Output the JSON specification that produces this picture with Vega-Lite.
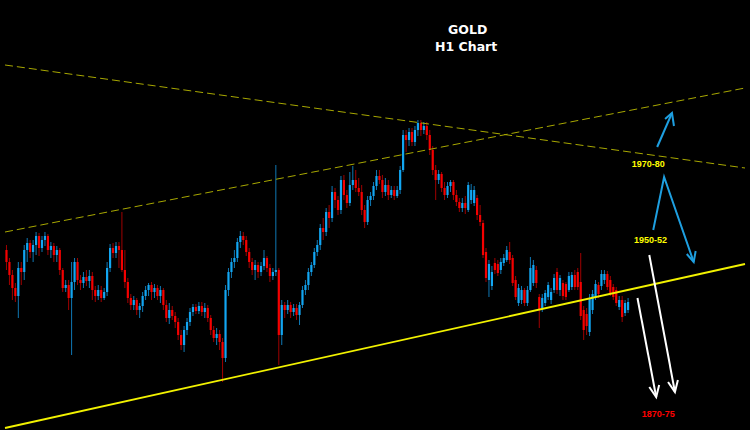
{
"$schema": "https://vega.github.io/schema/vega-lite/v6.json",
"width": 750, "height": 430,
"autosize": {"type": "fit", "contains": "padding"},
"padding": 0,
"background": "#000000",
"config": {"view": {"stroke": null}, "axis": {"disable": true}, "legend": {"disable": true}},
"datasets": {
"candles": [
{"t":0,"o":1955,"h":1957.5,"l":1945,"c":1949},
{"t":1,"o":1949,"h":1951,"l":1937.5,"c":1942.5},
{"t":2,"o":1942.5,"h":1945,"l":1930,"c":1936},
{"t":3,"o":1936,"h":1938.5,"l":1929,"c":1932},
{"t":4,"o":1932,"h":1949,"l":1921,"c":1946},
{"t":5,"o":1946,"h":1949,"l":1937.5,"c":1944},
{"t":6,"o":1944,"h":1957.5,"l":1940,"c":1955},
{"t":7,"o":1955,"h":1961,"l":1949,"c":1958.5},
{"t":8,"o":1958.5,"h":1960,"l":1951,"c":1954},
{"t":9,"o":1954,"h":1960,"l":1949,"c":1957.5},
{"t":10,"o":1957.5,"h":1964,"l":1952.5,"c":1962},
{"t":11,"o":1962,"h":1963.5,"l":1952,"c":1956},
{"t":12,"o":1956,"h":1962,"l":1954,"c":1960},
{"t":13,"o":1960,"h":1964,"l":1957,"c":1962},
{"t":14,"o":1962,"h":1963,"l":1952.5,"c":1955},
{"t":15,"o":1955,"h":1959,"l":1951,"c":1957},
{"t":16,"o":1957,"h":1958.5,"l":1949,"c":1952.5},
{"t":17,"o":1952.5,"h":1957,"l":1949,"c":1955},
{"t":18,"o":1955,"h":1956,"l":1942.5,"c":1945},
{"t":19,"o":1945,"h":1946,"l":1934,"c":1936},
{"t":20,"o":1936,"h":1940,"l":1934,"c":1937.5},
{"t":21,"o":1937.5,"h":1940,"l":1925,"c":1931},
{"t":22,"o":1931,"h":1949,"l":1902.5,"c":1939},
{"t":23,"o":1939,"h":1951,"l":1935,"c":1949},
{"t":24,"o":1949,"h":1951,"l":1937.5,"c":1940},
{"t":25,"o":1940,"h":1942.5,"l":1935,"c":1938.5},
{"t":26,"o":1938.5,"h":1944,"l":1936,"c":1941.5},
{"t":27,"o":1941.5,"h":1945,"l":1937,"c":1939.5},
{"t":28,"o":1939.5,"h":1945,"l":1936,"c":1942},
{"t":29,"o":1942,"h":1944,"l":1930,"c":1935},
{"t":30,"o":1935,"h":1937,"l":1929,"c":1932},
{"t":31,"o":1932,"h":1937.5,"l":1930,"c":1935},
{"t":32,"o":1935,"h":1937,"l":1929,"c":1931},
{"t":33,"o":1931,"h":1936,"l":1930,"c":1934},
{"t":34,"o":1934,"h":1949,"l":1932,"c":1946},
{"t":35,"o":1946,"h":1958,"l":1944,"c":1956},
{"t":36,"o":1956,"h":1958.5,"l":1951,"c":1953.5},
{"t":37,"o":1953.5,"h":1959,"l":1951,"c":1957},
{"t":38,"o":1957,"h":1959,"l":1946,"c":1955},
{"t":39,"o":1955,"h":1974,"l":1944,"c":1945},
{"t":40,"o":1945,"h":1955,"l":1936,"c":1939},
{"t":41,"o":1939,"h":1941,"l":1928.5,"c":1931},
{"t":42,"o":1931,"h":1933,"l":1925,"c":1927.5},
{"t":43,"o":1927.5,"h":1932,"l":1925,"c":1930},
{"t":44,"o":1930,"h":1931,"l":1922.5,"c":1925},
{"t":45,"o":1925,"h":1928.5,"l":1921,"c":1927},
{"t":46,"o":1927,"h":1934,"l":1924,"c":1932},
{"t":47,"o":1932,"h":1937,"l":1930,"c":1935},
{"t":48,"o":1935,"h":1938.5,"l":1932,"c":1937.5},
{"t":49,"o":1937.5,"h":1939,"l":1930,"c":1934},
{"t":50,"o":1934,"h":1938,"l":1931,"c":1936},
{"t":51,"o":1936,"h":1937.5,"l":1930,"c":1932},
{"t":52,"o":1932,"h":1937,"l":1928.5,"c":1935},
{"t":53,"o":1935,"h":1936,"l":1925,"c":1927.5},
{"t":54,"o":1927.5,"h":1930,"l":1919,"c":1921},
{"t":55,"o":1921,"h":1928.5,"l":1918,"c":1925},
{"t":56,"o":1925,"h":1927,"l":1920,"c":1922},
{"t":57,"o":1922,"h":1924,"l":1916,"c":1919},
{"t":58,"o":1919,"h":1921,"l":1910,"c":1912.5},
{"t":59,"o":1912.5,"h":1915,"l":1905,"c":1907.5},
{"t":60,"o":1907.5,"h":1917,"l":1904,"c":1915},
{"t":61,"o":1915,"h":1921,"l":1912.5,"c":1919},
{"t":62,"o":1919,"h":1926,"l":1917,"c":1924},
{"t":63,"o":1924,"h":1928,"l":1922,"c":1926.5},
{"t":64,"o":1926.5,"h":1928,"l":1923,"c":1924.5},
{"t":65,"o":1924.5,"h":1929,"l":1923,"c":1927},
{"t":66,"o":1927,"h":1929,"l":1922,"c":1924},
{"t":67,"o":1924,"h":1928.5,"l":1921,"c":1926},
{"t":68,"o":1926,"h":1927.5,"l":1919,"c":1921},
{"t":69,"o":1921,"h":1922.5,"l":1912.5,"c":1915},
{"t":70,"o":1915,"h":1917,"l":1909,"c":1911},
{"t":71,"o":1911,"h":1916,"l":1907.5,"c":1913},
{"t":72,"o":1913,"h":1915,"l":1905,"c":1909},
{"t":73,"o":1909,"h":1911,"l":1889,"c":1901},
{"t":74,"o":1901,"h":1937.5,"l":1899,"c":1935},
{"t":75,"o":1935,"h":1946,"l":1932,"c":1944},
{"t":76,"o":1944,"h":1951,"l":1941,"c":1949},
{"t":77,"o":1949,"h":1955,"l":1946,"c":1951},
{"t":78,"o":1951,"h":1961,"l":1949,"c":1959},
{"t":79,"o":1959,"h":1964.5,"l":1956,"c":1962},
{"t":80,"o":1962,"h":1964,"l":1957.5,"c":1960},
{"t":81,"o":1960,"h":1962,"l":1952,"c":1954},
{"t":82,"o":1954,"h":1956,"l":1946,"c":1949},
{"t":83,"o":1949,"h":1951,"l":1942.5,"c":1945},
{"t":84,"o":1945,"h":1950,"l":1940,"c":1947.5},
{"t":85,"o":1947.5,"h":1949,"l":1941,"c":1944},
{"t":86,"o":1944,"h":1949,"l":1942,"c":1947},
{"t":87,"o":1947,"h":1955,"l":1945,"c":1951},
{"t":88,"o":1951,"h":1952,"l":1944,"c":1946},
{"t":89,"o":1946,"h":1948,"l":1939,"c":1942},
{"t":90,"o":1942,"h":1946,"l":1940,"c":1944},
{"t":91,"o":1944,"h":1997.5,"l":1942,"c":1945},
{"t":92,"o":1945,"h":1946,"l":1897.5,"c":1912.5},
{"t":93,"o":1912.5,"h":1930,"l":1907.5,"c":1927.5},
{"t":94,"o":1927.5,"h":1929,"l":1921,"c":1925},
{"t":95,"o":1925,"h":1930,"l":1923,"c":1927.5},
{"t":96,"o":1927.5,"h":1929,"l":1921,"c":1924},
{"t":97,"o":1924,"h":1928,"l":1922,"c":1926},
{"t":98,"o":1926,"h":1928,"l":1920,"c":1922.5},
{"t":99,"o":1922.5,"h":1929,"l":1917.5,"c":1927.5},
{"t":100,"o":1927.5,"h":1937,"l":1926,"c":1935},
{"t":101,"o":1935,"h":1940,"l":1932.5,"c":1937.5},
{"t":102,"o":1937.5,"h":1946,"l":1935,"c":1944},
{"t":103,"o":1944,"h":1949,"l":1942,"c":1947.5},
{"t":104,"o":1947.5,"h":1956,"l":1946,"c":1954},
{"t":105,"o":1954,"h":1960,"l":1952,"c":1957.5},
{"t":106,"o":1957.5,"h":1968,"l":1955,"c":1966},
{"t":107,"o":1966,"h":1971,"l":1960,"c":1964},
{"t":108,"o":1964,"h":1976,"l":1962,"c":1974},
{"t":109,"o":1974,"h":1977.5,"l":1966,"c":1971},
{"t":110,"o":1971,"h":1987,"l":1969,"c":1984},
{"t":111,"o":1984,"h":1986,"l":1976,"c":1980},
{"t":112,"o":1980,"h":1982,"l":1972.5,"c":1975},
{"t":113,"o":1975,"h":1992,"l":1973,"c":1990},
{"t":114,"o":1990,"h":1992.5,"l":1980,"c":1982.5},
{"t":115,"o":1982.5,"h":1985,"l":1976,"c":1978.5},
{"t":116,"o":1978.5,"h":1994,"l":1977,"c":1987.5},
{"t":117,"o":1987.5,"h":1997,"l":1985,"c":1990},
{"t":118,"o":1990,"h":1995,"l":1984,"c":1986},
{"t":119,"o":1986,"h":1991,"l":1982,"c":1984},
{"t":120,"o":1984,"h":1987.5,"l":1972.5,"c":1975},
{"t":121,"o":1975,"h":1977.5,"l":1966,"c":1969},
{"t":122,"o":1969,"h":1982,"l":1967.5,"c":1980},
{"t":123,"o":1980,"h":1984,"l":1977,"c":1982},
{"t":124,"o":1982,"h":1989,"l":1980,"c":1987},
{"t":125,"o":1987,"h":1995,"l":1985,"c":1992},
{"t":126,"o":1992,"h":1995,"l":1988,"c":1990},
{"t":127,"o":1990,"h":1992.5,"l":1981,"c":1984},
{"t":128,"o":1984,"h":1991,"l":1982,"c":1987.5},
{"t":129,"o":1987.5,"h":1990,"l":1980,"c":1982.5},
{"t":130,"o":1982.5,"h":1987,"l":1981,"c":1985},
{"t":131,"o":1985,"h":1987,"l":1980,"c":1982},
{"t":132,"o":1982,"h":1987,"l":1981,"c":1985},
{"t":133,"o":1985,"h":1997,"l":1983,"c":1995},
{"t":134,"o":1995,"h":2015,"l":1994,"c":2012.5},
{"t":135,"o":2012.5,"h":2015,"l":2004,"c":2010},
{"t":136,"o":2010,"h":2016,"l":2007,"c":2014},
{"t":137,"o":2014,"h":2016,"l":2007,"c":2009},
{"t":138,"o":2009,"h":2017,"l":2007,"c":2015},
{"t":139,"o":2015,"h":2020,"l":2012,"c":2018.5},
{"t":140,"o":2018.5,"h":2020,"l":2012,"c":2015},
{"t":141,"o":2015,"h":2019,"l":2013,"c":2017},
{"t":142,"o":2017,"h":2019,"l":2010,"c":2012.5},
{"t":143,"o":2012.5,"h":2015,"l":2002.5,"c":2005},
{"t":144,"o":2005,"h":2007,"l":1992.5,"c":1995},
{"t":145,"o":1995,"h":1997.5,"l":1980,"c":1990},
{"t":146,"o":1990,"h":1995,"l":1988,"c":1993},
{"t":147,"o":1993,"h":1994,"l":1984,"c":1986},
{"t":148,"o":1986,"h":1989,"l":1980,"c":1982.5},
{"t":149,"o":1982.5,"h":1989,"l":1981,"c":1987},
{"t":150,"o":1987,"h":1990,"l":1984,"c":1989},
{"t":151,"o":1989,"h":1990,"l":1980,"c":1982.5},
{"t":152,"o":1982.5,"h":1985,"l":1977,"c":1979},
{"t":153,"o":1979,"h":1981,"l":1974,"c":1976},
{"t":154,"o":1976,"h":1981,"l":1974,"c":1978.5},
{"t":155,"o":1978.5,"h":1982,"l":1973,"c":1976},
{"t":156,"o":1975,"h":1989,"l":1974,"c":1987.5},
{"t":157,"o":1980,"h":1988,"l":1978,"c":1985},
{"t":158,"o":1978.5,"h":1987,"l":1977,"c":1985},
{"t":159,"o":1981,"h":1982.5,"l":1970,"c":1972.5},
{"t":160,"o":1972.5,"h":1977.5,"l":1967,"c":1969},
{"t":161,"o":1968.5,"h":1970,"l":1951,"c":1952.5},
{"t":162,"o":1954,"h":1956,"l":1939,"c":1941},
{"t":163,"o":1940,"h":1950,"l":1931.5,"c":1948},
{"t":164,"o":1937,"h":1947,"l":1935,"c":1944},
{"t":165,"o":1948.5,"h":1951,"l":1943,"c":1945},
{"t":166,"o":1948,"h":1950,"l":1942,"c":1943.5},
{"t":167,"o":1945,"h":1951,"l":1943,"c":1949},
{"t":168,"o":1948.5,"h":1953,"l":1947,"c":1951},
{"t":169,"o":1950,"h":1957,"l":1949,"c":1955},
{"t":170,"o":1954,"h":1959,"l":1948,"c":1950},
{"t":171,"o":1951,"h":1952.5,"l":1937,"c":1938.5},
{"t":172,"o":1940,"h":1942,"l":1930,"c":1931.5},
{"t":173,"o":1928.5,"h":1938,"l":1927,"c":1936},
{"t":174,"o":1930,"h":1937,"l":1928,"c":1935},
{"t":175,"o":1935,"h":1936,"l":1927,"c":1928.5},
{"t":176,"o":1928.5,"h":1937,"l":1927,"c":1935},
{"t":177,"o":1935,"h":1951.5,"l":1934,"c":1946},
{"t":178,"o":1938.5,"h":1950,"l":1937,"c":1947.5},
{"t":179,"o":1945,"h":1947,"l":1936,"c":1938.5},
{"t":180,"o":1931.5,"h":1933,"l":1916,"c":1925},
{"t":181,"o":1926,"h":1933,"l":1924,"c":1931},
{"t":182,"o":1928.5,"h":1935,"l":1927,"c":1933.5},
{"t":183,"o":1931.5,"h":1939,"l":1930,"c":1937.5},
{"t":184,"o":1930,"h":1936,"l":1928,"c":1934},
{"t":185,"o":1935,"h":1943,"l":1933.5,"c":1941},
{"t":186,"o":1944,"h":1946,"l":1933,"c":1935},
{"t":187,"o":1935,"h":1942.5,"l":1932,"c":1941},
{"t":188,"o":1938.5,"h":1940,"l":1930,"c":1932},
{"t":189,"o":1938,"h":1939,"l":1930,"c":1931.5},
{"t":190,"o":1935,"h":1944,"l":1934,"c":1942},
{"t":191,"o":1936.5,"h":1944,"l":1935,"c":1942.5},
{"t":192,"o":1942.5,"h":1945,"l":1935,"c":1936.5},
{"t":193,"o":1944,"h":1946,"l":1935,"c":1936.5},
{"t":194,"o":1939,"h":1953.5,"l":1920,"c":1922},
{"t":195,"o":1925,"h":1927,"l":1910,"c":1915},
{"t":196,"o":1923,"h":1926,"l":1912.5,"c":1917},
{"t":197,"o":1914,"h":1933,"l":1912,"c":1931},
{"t":198,"o":1925,"h":1935,"l":1923,"c":1933},
{"t":199,"o":1931.5,"h":1940,"l":1930,"c":1938},
{"t":200,"o":1937.5,"h":1939,"l":1931,"c":1933},
{"t":201,"o":1937,"h":1945,"l":1935,"c":1943},
{"t":202,"o":1940,"h":1945,"l":1938,"c":1943},
{"t":203,"o":1943,"h":1944.5,"l":1935,"c":1936.5},
{"t":204,"o":1940,"h":1942,"l":1932,"c":1933.5},
{"t":205,"o":1936.5,"h":1938,"l":1930,"c":1931.5},
{"t":206,"o":1935,"h":1936.5,"l":1927,"c":1928.5},
{"t":207,"o":1926.5,"h":1932,"l":1925,"c":1930},
{"t":208,"o":1930,"h":1932,"l":1919,"c":1921.5},
{"t":209,"o":1923.5,"h":1930,"l":1922,"c":1928.5},
{"t":210,"o":1925,"h":1931,"l":1923.5,"c":1929}
],
"trend": [
{"line":"falling","t":-0.5,"p":2047.5},{"line":"falling","t":249.5,"p":1996},
{"line":"rising","t":-0.5,"p":1964},{"line":"rising","t":249.5,"p":2036},
{"line":"base","t":-0.5,"p":1866},{"line":"base","t":249.5,"p":1948}
],
"arrows": [
{"kind":"bull","seg":"a1","k":0,"t":219.83,"p":2006.5},
{"kind":"bull","seg":"a1","k":1,"t":224.83,"p":2023.5},
{"kind":"bull","seg":"a1h","k":0,"t":222.5,"p":2020.5},
{"kind":"bull","seg":"a1h","k":1,"t":224.83,"p":2023.5},
{"kind":"bull","seg":"a1h","k":2,"t":225.5,"p":2017},
{"kind":"bull","seg":"a2","k":0,"t":218.5,"p":1965},
{"kind":"bull","seg":"a2","k":1,"t":222.17,"p":1991.5},
{"kind":"bull","seg":"a2","k":2,"t":232.17,"p":1949},
{"kind":"bull","seg":"a2h","k":0,"t":229.83,"p":1953},
{"kind":"bull","seg":"a2h","k":1,"t":232.17,"p":1949},
{"kind":"bull","seg":"a2h","k":2,"t":232.83,"p":1954.5},
{"kind":"bear","seg":"a3","k":0,"t":213.17,"p":1931},
{"kind":"bear","seg":"a3","k":1,"t":219.5,"p":1881.5},
{"kind":"bear","seg":"a3h","k":0,"t":217.17,"p":1886.5},
{"kind":"bear","seg":"a3h","k":1,"t":219.5,"p":1881.5},
{"kind":"bear","seg":"a3h","k":2,"t":220.5,"p":1887.5},
{"kind":"bear","seg":"a4","k":0,"t":217.17,"p":1952.5},
{"kind":"bear","seg":"a4","k":1,"t":225.83,"p":1884},
{"kind":"bear","seg":"a4h","k":0,"t":223.5,"p":1889},
{"kind":"bear","seg":"a4h","k":1,"t":225.83,"p":1884},
{"kind":"bear","seg":"a4h","k":2,"t":226.83,"p":1890}
],
"notes": [
{"text":"GOLD","t":155.8,"p":2064.8,"kind":"title"},
{"text":"H1 Chart","t":155.3,"p":2056.3,"kind":"title"},
{"text":"1970-80","t":216.8,"p":1997.8,"kind":"up"},
{"text":"1950-52","t":217.6,"p":1959.8,"kind":"up"},
{"text":"1870-75","t":220.2,"p":1873,"kind":"down"}
]
},
"layer": [
{"mark": {"type": "rule", "color": "#808080", "strokeWidth": 1},
 "encoding": {"y": {"datum": 1925, "type": "quantitative", "scale": {"domain": [1865, 2080], "nice": false, "zero": false}}}},
{"data": {"name": "candles"},
 "mark": {"type": "rule", "strokeWidth": 1},
 "encoding": {
  "x": {"field": "t", "type": "quantitative", "scale": {"domain": [-0.5, 249.5], "nice": false, "zero": false}},
  "y": {"field": "l", "type": "quantitative", "scale": {"domain": [1865, 2080], "nice": false, "zero": false}},
  "y2": {"field": "h"},
  "color": {"condition": {"test": "datum.c > datum.o", "value": "#0f78b4"}, "value": "#a00000"}}},
{"data": {"name": "candles"},
 "mark": {"type": "bar", "width": 2.2},
 "encoding": {
  "x": {"field": "t", "type": "quantitative"},
  "y": {"field": "o", "type": "quantitative"},
  "y2": {"field": "c"},
  "color": {"condition": {"test": "datum.c > datum.o", "value": "#12a6f2"}, "value": "#f50000"}}},
{"data": {"name": "trend"},
 "transform": [{"filter": "datum.line != 'base'"}],
 "mark": {"type": "line", "color": "#a8a800", "strokeWidth": 1, "strokeDash": [8, 4], "clip": true},
 "encoding": {"x": {"field": "t", "type": "quantitative"}, "y": {"field": "p", "type": "quantitative"}, "detail": {"field": "line"}}},
{"data": {"name": "trend"},
 "transform": [{"filter": "datum.line == 'base'"}],
 "mark": {"type": "line", "color": "#f2f200", "strokeWidth": 1.8, "clip": true},
 "encoding": {"x": {"field": "t", "type": "quantitative"}, "y": {"field": "p", "type": "quantitative"}}},
{"data": {"name": "arrows"},
 "mark": {"type": "line", "strokeWidth": 2, "strokeJoin": "miter"},
 "encoding": {
  "x": {"field": "t", "type": "quantitative"},
  "y": {"field": "p", "type": "quantitative"},
  "detail": {"field": "seg"},
  "order": {"field": "k"},
  "color": {"field": "kind", "type": "nominal", "scale": {"domain": ["bull", "bear"], "range": ["#1e9fe0", "#ffffff"]}}}},
{"data": {"name": "notes"},
 "transform": [{"filter": "datum.kind == 'title'"}],
 "mark": {"type": "text", "font": "DejaVu Sans", "fontWeight": "bold", "fontSize": 12.5, "color": "#ffffff", "baseline": "middle", "align": "center"},
 "encoding": {"x": {"field": "t", "type": "quantitative"}, "y": {"field": "p", "type": "quantitative"}, "text": {"field": "text"}}},
{"data": {"name": "notes"},
 "transform": [{"filter": "datum.kind != 'title'"}],
 "mark": {"type": "text", "font": "Liberation Sans", "fontWeight": "bold", "fontSize": 9, "baseline": "middle", "align": "center"},
 "encoding": {"x": {"field": "t", "type": "quantitative"}, "y": {"field": "p", "type": "quantitative"}, "text": {"field": "text"},
  "color": {"field": "kind", "type": "nominal", "scale": {"domain": ["up", "down"], "range": ["#ffff00", "#ff0000"]}}}}
],
"resolve": {"scale": {"color": "independent"}}
}
